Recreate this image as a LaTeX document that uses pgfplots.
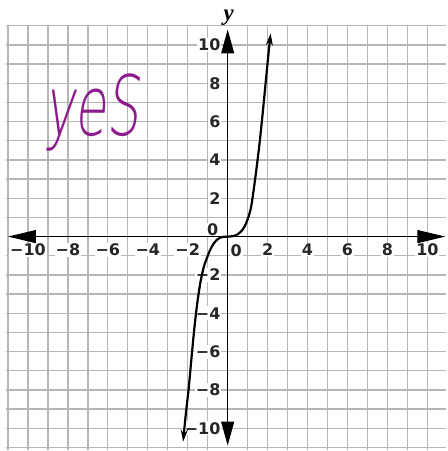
\documentclass[border=0pt]{standalone}
\usepackage{pgfplots}
\pgfplotsset{compat=1.18}
\usetikzlibrary{arrows.meta}
\usepackage{fontspec}
\setmainfont{DejaVu Sans}
\newfontfamily\tickfont{DejaVu Sans}
\newfontfamily\varfont{Liberation Serif}
\newfontfamily\hand{DejaVu Sans ExtraLight}[FakeSlant=0.18]
\definecolor{ink}{RGB}{140,28,140}
\definecolor{gridgray}{RGB}{182,182,182}

\begin{document}
\begin{tikzpicture}
\begin{axis}[
  x=20pt, y=19.2pt,
  xmin=-11.1, xmax=10.95, ymin=-11.15, ymax=11.0,
  axis lines=middle,
  axis line style={draw=none},
  clip=false,
  set layers=standard,
  xtick={-10,-8,-6,-4,-2,2,4,6,8,10},
  xticklabels={−10,−8,−6,−4,−2,2,4,6,8,10},
  ytick={-10,-8,-6,-4,-2,2,4,6,8,10},
  yticklabels={−10,−8,−6,−4,−2,2,4,6,8,10},
  extra x ticks={-11,-9,-7,-5,-3,-1,1,3,5,7,9},
  extra x tick labels={},
  extra y ticks={-11,-9,-7,-5,-3,-1,1,3,5,7,9,11},
  extra y tick labels={},
  extra tick style={grid=major, xticklabel style={fill=none}, yticklabel style={fill=none}},
  grid=major,
  major grid style={gridgray, line width=1.3pt},
  major tick length=0pt,
  tick style={draw=none},
  xticklabel style={font=\tickfont\bfseries\fontsize{16}{16}\selectfont, text=black!85,
    anchor=north, fill=white, inner sep=1pt, yshift=-6pt},
  yticklabel style={font=\tickfont\bfseries\fontsize{16}{16}\selectfont, text=black!85,
    anchor=east, fill=white, inner sep=1pt, xshift=-6pt},
]
% coordinate axes with arrowheads
\addplot[on layer=axis foreground, black, line width=1.1pt, no markers,
  {Triangle[length=28pt,width=13pt]}-{Triangle[length=28pt,width=13pt]}]
  coordinates {(-11,0) (10.9,0)};
\addplot[on layer=axis foreground, black, line width=1.1pt, no markers,
  {Triangle[length=24pt,width=13pt]}-{Triangle[length=24pt,width=13pt]}]
  coordinates {(0,-10.9) (0,10.8)};
% the graphed function
\addplot[on layer=axis foreground, black, line width=2.2pt, smooth, no markers,
  {Stealth[length=12pt,width=7pt]}-{Stealth[length=12pt,width=7pt]}]
  coordinates {
    (-2.23,-10.7) (-2.1,-9.3) (-1.95,-7.9) (-1.8,-6.2) (-1.65,-4.6)
    (-1.5,-3.3) (-1.35,-2.3) (-1.2,-1.6) (-1.07,-1.2) (-0.9,-0.75)
    (-0.73,-0.41) (-0.55,-0.18) (-0.4,-0.07) (-0.2,-0.01) (0.1,0.0)
    (0.3,0.03) (0.5,0.12) (0.7,0.3) (0.85,0.53) (1.0,0.9) (1.1,1.23)
    (1.2,1.7) (1.35,2.8) (1.45,3.6) (1.6,4.9) (1.75,6.4) (1.9,8.0)
    (2.05,9.6) (2.15,10.6)
  };
% zero labels for both axes
\node[font=\tickfont\bfseries\fontsize{16}{16}\selectfont, text=black!85, fill=white, inner sep=1pt]
  at (axis cs:0.42,-0.71) {0};
\node[font=\tickfont\bfseries\fontsize{16}{16}\selectfont, text=black!85, fill=white, inner sep=1pt]
  at (axis cs:-0.75,0.36) {0};
% axis name
\node[font=\varfont\bfseries\itshape\fontsize{23}{23}\selectfont, anchor=base, inner sep=0pt]
  at (axis cs:0.05,11.25) {y};
% handwritten note
\node[font=\hand\fontsize{52}{52}\selectfont, text=ink, yscale=1.6, transform shape,
  inner sep=0pt] at (axis cs:-6.8,6.48) {yeS};
% page extent
\path (axis cs:-11.4,12.34) -- (axis cs:10.95,-11.15);
\end{axis}
\end{tikzpicture}
\end{document}
